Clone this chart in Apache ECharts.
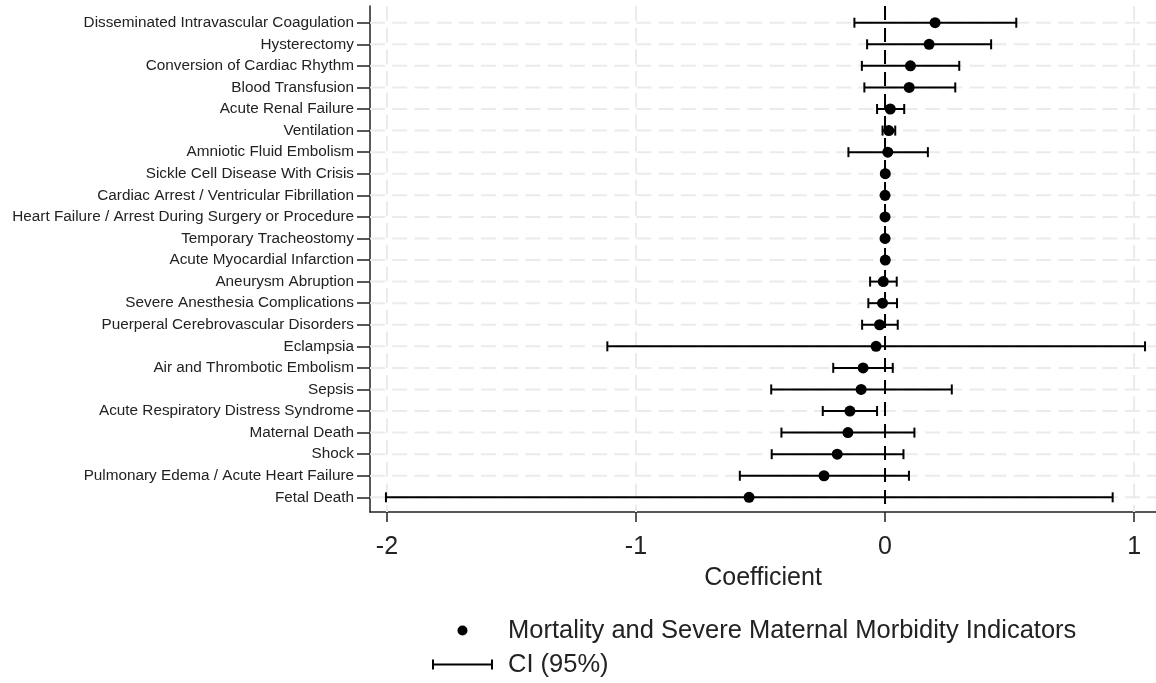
<!DOCTYPE html>
<html>
<head>
<meta charset="utf-8">
<script src="https://cdn.jsdelivr.net/npm/echarts@6/dist/echarts.min.js"></script>
<style>
  html, body { margin: 0; padding: 0; background: #fff; }
  #chart { width: 1156px; height: 683px; }
</style>
</head>
<body>
<div id="chart"></div>
<script>
// Indicators listed top to bottom
var categories = [
  'Disseminated Intravascular Coagulation',
  'Hysterectomy',
  'Conversion of Cardiac Rhythm',
  'Blood Transfusion',
  'Acute Renal Failure',
  'Ventilation',
  'Amniotic Fluid Embolism',
  'Sickle Cell Disease With Crisis',
  'Cardiac Arrest / Ventricular Fibrillation',
  'Heart Failure / Arrest During Surgery or Procedure',
  'Temporary Tracheostomy',
  'Acute Myocardial Infarction',
  'Aneurysm Abruption',
  'Severe Anesthesia Complications',
  'Puerperal Cerebrovascular Disorders',
  'Eclampsia',
  'Air and Thrombotic Embolism',
  'Sepsis',
  'Acute Respiratory Distress Syndrome',
  'Maternal Death',
  'Shock',
  'Pulmonary Edema / Acute Heart Failure',
  'Fetal Death'
];

// Point estimates
var coef = [
  0.201, 0.177, 0.102, 0.097, 0.021, 0.015, 0.011, 0.001, 0.000, 0.000, 0.000, 0.001,
  -0.007, -0.010, -0.022, -0.036, -0.088, -0.096, -0.141, -0.149, -0.192, -0.245, -0.546
];
// 95% confidence interval bounds
var ciLow = [
  -0.123, -0.072, -0.093, -0.083, -0.032, -0.010, -0.147, -0.002, -0.002, -0.002, -0.002, -0.002,
  -0.060, -0.067, -0.092, -1.115, -0.208, -0.457, -0.250, -0.416, -0.455, -0.583, -2.004
];
var ciHigh = [
  0.527, 0.426, 0.298, 0.282, 0.077, 0.041, 0.172, 0.004, 0.002, 0.002, 0.002, 0.004,
  0.047, 0.048, 0.051, 1.044, 0.031, 0.268, -0.032, 0.118, 0.074, 0.096, 0.914
];

var xTicks = [-2, -1, 0, 1];
var xGridValues = [-2, -1, 1];
var refValue = [0];

var FONT = '"Liberation Sans", Arial, sans-serif';
var TEXT = '#222';

var rows = categories.map(function (c, i) { return i + 1; });
var pointData = coef.map(function (v, i) { return [v, i + 1]; });
var ciData = coef.map(function (v, i) { return [ciLow[i], ciHigh[i], i + 1]; });

var chart = echarts.init(document.getElementById('chart'), null, { renderer: 'canvas' });

var rowGridStyle = { stroke: '#ebebeb', lineWidth: 2, lineDash: [15, 7.2] };
var colGridStyle = { stroke: '#ebebeb', lineWidth: 2, lineDash: [15, 6.7] };
var refLineStyle = { stroke: '#000', lineWidth: 2, lineDash: [14, 8] };

// horizontal rule across the plot at a given row
function rowRule(params, api) {
  var cs = params.coordSys;
  var y = api.coord([0, api.value(0)])[1];
  return {
    type: 'line',
    silent: true,
    shape: { x1: cs.x, y1: y, x2: cs.x + cs.width, y2: y },
    style: rowGridStyle
  };
}

// vertical rule across the plot at a given x value
function makeColRule(style) {
  return function (params, api) {
    var cs = params.coordSys;
    var x = api.coord([api.value(0), 1])[0];
    return {
      type: 'line',
      silent: true,
      shape: { x1: x, y1: cs.y, x2: x, y2: cs.y + cs.height },
      style: style
    };
  };
}

chart.setOption({
  animation: false,
  backgroundColor: '#fff',
  grid: { left: 370, right: 0, top: 6, bottom: 171 },
  xAxis: {
    type: 'value',
    min: -2.068,
    max: 1.088,
    axisLine: { show: true, onZero: false, lineStyle: { color: TEXT, width: 1.5 } },
    axisTick: { show: true, customValues: xTicks, length: 10, lineStyle: { color: TEXT, width: 1.5 } },
    axisLabel: { customValues: xTicks, margin: 23, fontSize: 25, fontFamily: FONT, color: TEXT },
    splitLine: { show: false },
    name: 'Coefficient',
    nameLocation: 'middle',
    nameGap: 54,
    nameTextStyle: { fontSize: 25, fontFamily: FONT, color: TEXT }
  },
  yAxis: {
    type: 'value',
    inverse: true,
    min: 0.225,
    max: 23.68,
    axisLine: { show: true, onZero: false, lineStyle: { color: TEXT, width: 1.5 } },
    axisTick: { show: true, customValues: rows, length: 13, lineStyle: { color: TEXT, width: 1.5 } },
    axisLabel: {
      customValues: rows,
      margin: 16,
      fontSize: 15.3,
      fontFamily: FONT,
      color: TEXT,
      formatter: function (v) { return categories[Math.round(v) - 1] || ''; }
    },
    splitLine: { show: false }
  },
  legend: {
    orient: 'vertical',
    left: 432,
    top: 617.5,
    padding: 0,
    itemGap: 8,
    itemWidth: 61,
    itemHeight: 10,
    selectedMode: false,
    textStyle: { fontSize: 25.5, fontFamily: FONT, color: TEXT, padding: [0, 0, 0, 10] },
    data: [
      { name: 'Mortality and Severe Maternal Morbidity Indicators', icon: 'circle', itemStyle: { opacity: 1 } },
      { name: 'CI (95%)', icon: 'path://M0,0h2v10h-2z M0,4h61v2h-61z M59,0h2v10h-2z' }
    ]
  },
  series: [
    {
      type: 'custom',
      silent: true,
      z: 1,
      encode: { y: 0 },
      data: rows.map(function (r) { return [r]; }),
      renderItem: rowRule
    },
    {
      type: 'custom',
      silent: true,
      z: 1,
      encode: { x: 0 },
      data: xGridValues.map(function (v) { return [v]; }),
      renderItem: makeColRule(colGridStyle)
    },
    {
      type: 'custom',
      silent: true,
      z: 2,
      encode: { x: 0 },
      data: refValue.map(function (v) { return [v]; }),
      renderItem: makeColRule(refLineStyle)
    },
    {
      name: 'CI (95%)',
      type: 'custom',
      z: 3,
      itemStyle: { color: '#000' },
      encode: { x: [0, 1], y: 2 },
      data: ciData,
      renderItem: function (params, api) {
        var y = api.value(2);
        var a = api.coord([api.value(0), y]);
        var b = api.coord([api.value(1), y]);
        var h = 5;
        var style = { stroke: '#000', lineWidth: 2 };
        return {
          type: 'group',
          children: [
            { type: 'line', shape: { x1: a[0], y1: a[1], x2: b[0], y2: b[1] }, style: style },
            { type: 'line', shape: { x1: a[0], y1: a[1] - h, x2: a[0], y2: a[1] + h }, style: style },
            { type: 'line', shape: { x1: b[0], y1: b[1] - h, x2: b[0], y2: b[1] + h }, style: style }
          ]
        };
      }
    },
    {
      name: 'Mortality and Severe Maternal Morbidity Indicators',
      type: 'scatter',
      z: 4,
      symbol: 'circle',
      symbolSize: 11,
      itemStyle: { color: '#000', opacity: 1 },
      data: pointData
    }
  ]
});
</script>
</body>
</html>
